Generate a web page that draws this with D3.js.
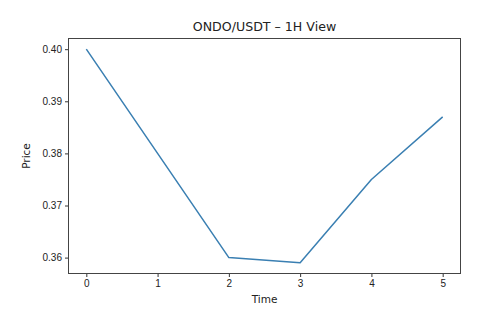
<!DOCTYPE html>
<html>
<head>
<meta charset="utf-8">
<script src="https://cdn.jsdelivr.net/npm/d3@7"></script>
<style>
  body { margin: 0; background: #fff; }
  svg { font-family: "DejaVu Sans", sans-serif; }
</style>
</head>
<body>
<div id="chart"></div>
<script>
var times = [0, 1, 2, 3, 4, 5];
var prices = [0.400, 0.380, 0.360, 0.359, 0.375, 0.387];
var yTicks = [0.36, 0.37, 0.38, 0.39, 0.40];

var width = 481, height = 328;
var margin = {top: 38.5, right: 20.5, bottom: 54.5, left: 68.5};

var svg = d3.select("#chart").append("svg")
  .attr("width", width)
  .attr("height", height);

// matplotlib style 5% padding
var xPad = (d3.max(times) - d3.min(times)) * 0.05;
var yPad = (d3.max(prices) - d3.min(prices)) * 0.05;

var x = d3.scaleLinear()
  .domain([d3.min(times) - xPad, d3.max(times) + xPad])
  .range([margin.left, width - margin.right]);

var y = d3.scaleLinear()
  .domain([d3.min(prices) - yPad, d3.max(prices) + yPad])
  .range([height - margin.bottom, margin.top]);

var xAxis = svg.append("g")
  .attr("transform", `translate(0,${height - margin.bottom})`)
  .call(d3.axisBottom(x).tickValues(times).tickFormat(d3.format("d")).tickSize(3.5).tickPadding(3));

var yAxis = svg.append("g")
  .attr("transform", `translate(${margin.left},0)`)
  .call(d3.axisLeft(y).tickValues(yTicks).tickFormat(d3.format(".2f")).tickSize(3.5).tickPadding(3));

[xAxis, yAxis].forEach(a => {
  a.select(".domain").remove();
  a.selectAll("text").style("font-size", "10px").attr("fill", "#222");
  a.selectAll("line").attr("stroke", "#333");
});

svg.append("path")
  .datum(times.map((t, i) => [t, prices[i]]))
  .attr("fill", "none")
  .attr("stroke", "#3a7fb2")
  .attr("stroke-width", 1.5)
  .attr("stroke-linejoin", "round")
  .attr("d", d3.line().x(d => x(d[0])).y(d => y(d[1])));

// axes frame
svg.append("rect")
  .attr("x", margin.left)
  .attr("y", margin.top)
  .attr("width", width - margin.left - margin.right)
  .attr("height", height - margin.top - margin.bottom)
  .attr("fill", "none")
  .attr("stroke", "#444")
  .attr("stroke-width", 1);

svg.append("text")
  .attr("x", (margin.left + width - margin.right) / 2)
  .attr("y", 31)
  .attr("text-anchor", "middle")
  .style("font-size", "12.6px")
  .attr("fill", "#222")
  .text("ONDO/USDT – 1H View");

svg.append("text")
  .attr("x", (margin.left + width - margin.right) / 2)
  .attr("y", 303)
  .attr("text-anchor", "middle")
  .style("font-size", "10.5px")
  .attr("fill", "#222")
  .text("Time");

svg.append("text")
  .attr("transform", `translate(30,${(margin.top + height - margin.bottom) / 2}) rotate(-90)`)
  .attr("text-anchor", "middle")
  .style("font-size", "10.5px")
  .attr("fill", "#222")
  .text("Price");
</script>
</body>
</html>
